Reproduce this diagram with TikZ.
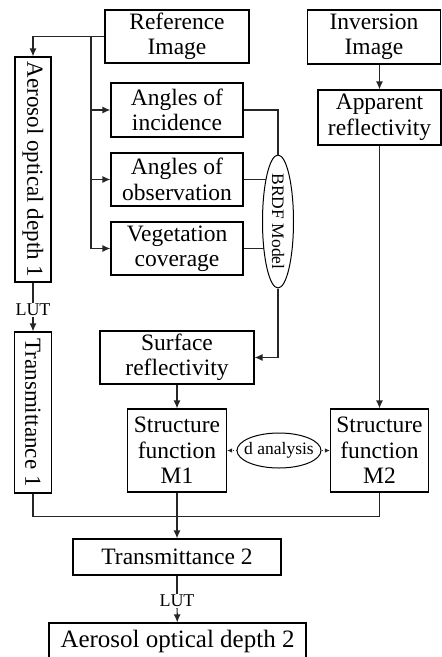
\documentclass[tikz,border=0pt]{standalone}
\usepackage{fontspec}
\setmainfont{Liberation Serif}
\usetikzlibrary{arrows.meta, positioning, shapes.geometric, backgrounds}
\tikzset{
    box/.style={rectangle, draw=black, line width=1.2pt, fill=white, inner sep=0pt, align=center, font=\fontsize{23.5}{25.5}\selectfont},
    vbox/.style={box, font=\fontsize{23}{23}\selectfont},
    oval/.style={ellipse, draw=black, line width=1pt, fill=white, inner sep=0pt, font=\fontsize{17.5}{17.5}\selectfont},
    note/.style={inner sep=1pt, font=\fontsize{18}{18}\selectfont},
    link/.style={line width=1.2pt, draw=black!85},
    arrow/.style={link, -{Latex[length=8pt,width=7pt]}},
    dotarrow/.style={-{Latex[length=5pt,width=4.5pt]}, dotted, line width=1pt, draw=black!85}
}
\begin{document}
\begin{tikzpicture}[x=1pt, y=-1pt]
        \useasboundingbox (0,0) rectangle (442,657);
        % reference branch
        \node[box, minimum width=144pt, minimum height=53pt] (refimg) at (177,36.5) {Reference\\Image};
        \node[vbox, minimum width=36pt, minimum height=225pt] (aod1) at (33,169.5) {\rotatebox{-90}{Aerosol optical depth 1}};
        \node[box, minimum width=132pt, minimum height=54pt] (inc) at (177,110) {Angles of\\incidence};
        \node[box, minimum width=132pt, minimum height=53pt] (obs) at (177,179.5) {Angles of\\observation};
        \node[box, minimum width=132pt, minimum height=53pt] (veg) at (177,248.5) {Vegetation\\coverage};
        \node[oval, minimum width=31pt, minimum height=133pt] (brdf) at (278,221.5) {\rotatebox{-90}{\makebox[60pt]{BRDF Model}}};
        \node[note] (lut1) at (33,310) {LUT};
        \node[vbox, minimum width=37pt, minimum height=161pt] (tr1) at (33,412.5) {\rotatebox{-90}{Transmittance 1}};
        \node[box, minimum width=154pt, minimum height=53pt] (surf) at (177,357.5) {Surface\\reflectivity};
        \node[box, minimum width=99pt, minimum height=83pt] (m1) at (177,450.5) {Structure\\function\\M1};
        % inversion branch
        \node[box, minimum width=133pt, minimum height=54pt] (invimg) at (374,37) {Inversion\\Image};
        \node[box, minimum width=123pt, minimum height=55pt] (app) at (379.5,117.5) {Apparent\\reflectivity};
        \node[box, minimum width=98pt, minimum height=83pt] (m2) at (379.5,450.5) {Structure\\function\\M2};
        \node[oval, minimum width=84pt, minimum height=35pt] (dana) at (279,450.5) {\makebox[50pt]{d analysis}};
        % output
        \node[box, minimum width=208pt, minimum height=36pt] (tr2) at (177,557) {Transmittance 2};
        \node[note] (lut2) at (177,601) {LUT};
        \node[box, font=\fontsize{25}{25}\selectfont, minimum width=257pt, minimum height=36pt] (aod2) at (177.5,641) {Aerosol optical depth 2};

        \coordinate (trunk) at (91,36.5);
        \draw[arrow] (refimg.west) -| (aod1.north);
        \draw[arrow] (trunk) |- (inc.west);
        \draw[arrow] (trunk) |- (obs.west);
        \draw[arrow] (trunk) |- (veg.west);
        \draw[link] (inc.east) -| (brdf.north);
        \begin{scope}[on background layer]
            \draw[link] (obs.east) -- (obs.east -| brdf.center);
            \draw[link] (veg.east) -- (veg.east -| brdf.center);
        \end{scope}
        \draw[arrow] (brdf.south) |- (surf.east);
        \draw[arrow] (surf) -- (m1);
        \draw[arrow] (invimg.south -| app.north) -- (app.north);
        \draw[arrow] (app) -- (m2);
        \draw[dotarrow] (dana) -- (m1);
        \draw[dotarrow] (dana) -- (m2);
        \draw[link] (aod1) -- (lut1);
        \draw[arrow] (lut1) -- (tr1);
        \draw[link] (tr1.south) -- ++(0,23) -| (m2.south);
        \draw[arrow] (m1) -- (tr2);
        \draw[link] (tr2) -- (lut2);
        \draw[arrow] (lut2) -- (aod2);
    \end{tikzpicture}
\end{document}
